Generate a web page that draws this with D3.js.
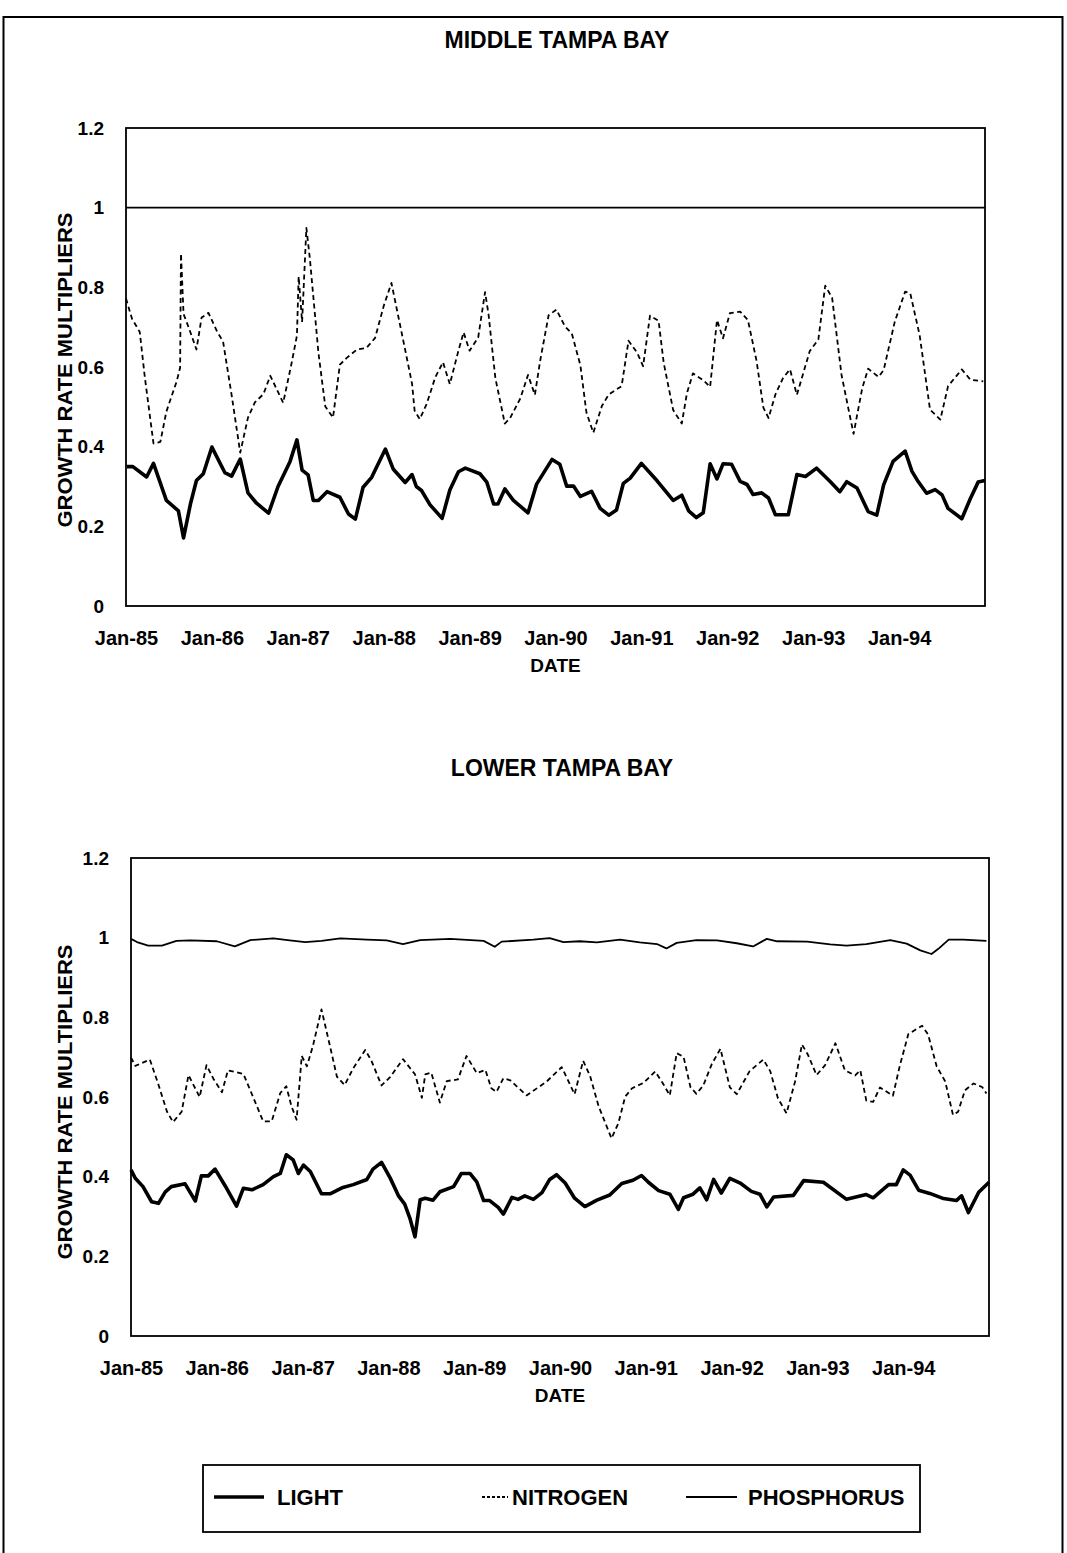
<!DOCTYPE html>
<html>
<head>
<meta charset="utf-8">
<script src="https://cdn.jsdelivr.net/npm/d3@7"></script>
<style>
  html, body { margin: 0; padding: 0; background: #fff; }
  svg { display: block; }
  text { font-family: "Liberation Sans", Arial, sans-serif; fill: #000; }
</style>
</head>
<body>
<svg id="chart" width="1067" height="1553"></svg>
<script>
// ---------------- DATA ----------------
const yearTicks = [1985, 1986, 1987, 1988, 1989, 1990, 1991, 1992, 1993, 1994];
const yearLabels = ["Jan-85", "Jan-86", "Jan-87", "Jan-88", "Jan-89", "Jan-90", "Jan-91", "Jan-92", "Jan-93", "Jan-94"];
const yTicks = [0, 0.2, 0.4, 0.6, 0.8, 1, 1.2];
const yTickLabels = ["0", "0.2", "0.4", "0.6", "0.8", "1", "1.2"];
const seriesNames = ["LIGHT", "NITROGEN", "PHOSPHORUS"];
const chartTitles = ["MIDDLE TAMPA BAY", "LOWER TAMPA BAY"];

// [decimal year, multiplier]
const middleLight = [[1985.01,0.35],[1985.08,0.35],[1985.24,0.324],[1985.32,0.358],[1985.47,0.265],[1985.61,0.239],[1985.67,0.171],[1985.75,0.256],[1985.82,0.315],[1985.90,0.332],[1986.00,0.399],[1986.15,0.335],[1986.23,0.326],[1986.33,0.369],[1986.42,0.284],[1986.52,0.258],[1986.66,0.233],[1986.77,0.30],[1986.91,0.363],[1986.99,0.417],[1987.05,0.341],[1987.12,0.329],[1987.18,0.265],[1987.24,0.265],[1987.34,0.287],[1987.49,0.273],[1987.59,0.231],[1987.67,0.218],[1987.76,0.298],[1987.86,0.323],[1988.02,0.394],[1988.11,0.344],[1988.25,0.31],[1988.33,0.33],[1988.38,0.30],[1988.44,0.29],[1988.54,0.254],[1988.68,0.22],[1988.77,0.291],[1988.87,0.337],[1988.95,0.346],[1989.12,0.332],[1989.20,0.311],[1989.28,0.256],[1989.33,0.256],[1989.41,0.294],[1989.51,0.265],[1989.68,0.234],[1989.78,0.306],[1989.96,0.368],[1990.05,0.356],[1990.13,0.301],[1990.21,0.301],[1990.29,0.275],[1990.42,0.288],[1990.52,0.245],[1990.62,0.228],[1990.71,0.241],[1990.79,0.308],[1990.87,0.321],[1991.00,0.358],[1991.18,0.315],[1991.37,0.265],[1991.47,0.278],[1991.55,0.239],[1991.64,0.222],[1991.72,0.234],[1991.80,0.357],[1991.88,0.319],[1991.95,0.357],[1992.05,0.356],[1992.15,0.313],[1992.23,0.305],[1992.30,0.28],[1992.40,0.284],[1992.48,0.271],[1992.56,0.229],[1992.71,0.229],[1992.81,0.33],[1992.91,0.325],[1993.04,0.346],[1993.20,0.312],[1993.31,0.287],[1993.39,0.312],[1993.51,0.296],[1993.64,0.237],[1993.74,0.228],[1993.82,0.304],[1993.93,0.363],[1994.07,0.389],[1994.15,0.338],[1994.22,0.313],[1994.32,0.283],[1994.42,0.292],[1994.50,0.279],[1994.57,0.245],[1994.73,0.219],[1994.83,0.27],[1994.92,0.311],[1995.00,0.315]];

const middleNitrogen = [[1985.00,0.772],[1985.07,0.721],[1985.16,0.688],[1985.22,0.573],[1985.32,0.408],[1985.40,0.412],[1985.47,0.488],[1985.59,0.564],[1985.63,0.598],[1985.64,0.885],[1985.67,0.733],[1985.73,0.699],[1985.82,0.644],[1985.88,0.724],[1985.96,0.736],[1986.06,0.689],[1986.13,0.664],[1986.23,0.529],[1986.33,0.385],[1986.42,0.473],[1986.50,0.511],[1986.60,0.532],[1986.68,0.578],[1986.83,0.51],[1986.93,0.612],[1986.99,0.679],[1987.01,0.827],[1987.05,0.713],[1987.10,0.949],[1987.14,0.873],[1987.24,0.636],[1987.32,0.501],[1987.41,0.473],[1987.49,0.606],[1987.57,0.623],[1987.69,0.644],[1987.80,0.648],[1987.90,0.673],[1988.00,0.753],[1988.09,0.811],[1988.25,0.643],[1988.33,0.558],[1988.36,0.49],[1988.42,0.469],[1988.50,0.507],[1988.60,0.574],[1988.69,0.612],[1988.77,0.557],[1988.87,0.641],[1988.93,0.687],[1989.00,0.641],[1989.10,0.674],[1989.18,0.788],[1989.22,0.733],[1989.30,0.572],[1989.41,0.458],[1989.47,0.471],[1989.59,0.521],[1989.68,0.58],[1989.76,0.53],[1989.82,0.614],[1989.92,0.73],[1990.01,0.744],[1990.11,0.702],[1990.19,0.684],[1990.29,0.604],[1990.36,0.486],[1990.44,0.435],[1990.54,0.502],[1990.62,0.531],[1990.77,0.552],[1990.85,0.666],[1990.95,0.636],[1991.02,0.602],[1991.10,0.729],[1991.20,0.716],[1991.26,0.61],[1991.37,0.492],[1991.47,0.458],[1991.53,0.534],[1991.60,0.584],[1991.72,0.567],[1991.80,0.55],[1991.88,0.718],[1991.95,0.672],[1992.03,0.735],[1992.15,0.739],[1992.24,0.718],[1992.34,0.616],[1992.42,0.498],[1992.48,0.472],[1992.56,0.531],[1992.65,0.573],[1992.73,0.594],[1992.81,0.53],[1992.96,0.64],[1993.06,0.669],[1993.14,0.804],[1993.22,0.774],[1993.33,0.58],[1993.41,0.495],[1993.47,0.432],[1993.57,0.546],[1993.64,0.596],[1993.76,0.575],[1993.82,0.592],[1993.95,0.714],[1994.07,0.789],[1994.13,0.785],[1994.24,0.679],[1994.36,0.493],[1994.48,0.468],[1994.57,0.552],[1994.73,0.594],[1994.83,0.568],[1994.98,0.564]];

const middlePhosphorus = [[1985,1],[1986,1],[1987,1],[1988,1],[1989,1],[1990,1],[1991,1],[1992,1],[1993,1],[1994,1],[1995,1]];

const lowerLight = [[1985.00,0.417],[1985.05,0.396],[1985.14,0.375],[1985.24,0.337],[1985.32,0.333],[1985.40,0.362],[1985.47,0.375],[1985.63,0.382],[1985.75,0.339],[1985.82,0.402],[1985.90,0.402],[1985.98,0.419],[1986.10,0.376],[1986.23,0.326],[1986.31,0.371],[1986.41,0.367],[1986.54,0.38],[1986.66,0.40],[1986.74,0.408],[1986.81,0.455],[1986.89,0.442],[1986.95,0.408],[1987.01,0.429],[1987.09,0.413],[1987.22,0.357],[1987.32,0.357],[1987.47,0.373],[1987.59,0.38],[1987.75,0.393],[1987.82,0.419],[1987.92,0.436],[1988.02,0.397],[1988.12,0.351],[1988.19,0.331],[1988.25,0.296],[1988.31,0.249],[1988.37,0.342],[1988.43,0.346],[1988.52,0.341],[1988.60,0.362],[1988.76,0.375],[1988.85,0.408],[1988.95,0.408],[1989.03,0.387],[1989.11,0.34],[1989.18,0.34],[1989.28,0.323],[1989.34,0.306],[1989.44,0.348],[1989.51,0.343],[1989.59,0.352],[1989.69,0.343],[1989.79,0.36],[1989.88,0.393],[1989.96,0.405],[1990.06,0.384],[1990.17,0.346],[1990.29,0.325],[1990.43,0.341],[1990.58,0.354],[1990.72,0.383],[1990.85,0.391],[1990.95,0.403],[1991.03,0.386],[1991.15,0.365],[1991.28,0.356],[1991.38,0.318],[1991.44,0.347],[1991.55,0.356],[1991.63,0.372],[1991.71,0.342],[1991.79,0.393],[1991.88,0.359],[1991.98,0.396],[1992.10,0.384],[1992.23,0.363],[1992.33,0.356],[1992.41,0.324],[1992.49,0.349],[1992.72,0.353],[1992.84,0.39],[1993.07,0.386],[1993.34,0.343],[1993.57,0.355],[1993.65,0.347],[1993.83,0.38],[1993.92,0.38],[1994.00,0.417],[1994.08,0.404],[1994.18,0.366],[1994.31,0.358],[1994.47,0.345],[1994.62,0.34],[1994.68,0.352],[1994.76,0.31],[1994.88,0.361],[1995.00,0.386]];

const lowerNitrogen = [[1985.00,0.699],[1985.05,0.678],[1985.22,0.694],[1985.32,0.631],[1985.42,0.563],[1985.49,0.537],[1985.59,0.563],[1985.67,0.655],[1985.75,0.621],[1985.80,0.60],[1985.88,0.68],[1985.96,0.646],[1986.06,0.612],[1986.13,0.667],[1986.31,0.658],[1986.45,0.586],[1986.54,0.539],[1986.64,0.539],[1986.74,0.61],[1986.81,0.627],[1986.87,0.577],[1986.93,0.543],[1986.99,0.703],[1987.05,0.677],[1987.12,0.728],[1987.22,0.82],[1987.32,0.727],[1987.40,0.651],[1987.49,0.63],[1987.59,0.672],[1987.73,0.718],[1987.80,0.692],[1987.92,0.629],[1988.02,0.65],[1988.17,0.695],[1988.31,0.657],[1988.39,0.598],[1988.43,0.657],[1988.50,0.661],[1988.60,0.586],[1988.68,0.64],[1988.81,0.644],[1988.91,0.703],[1989.03,0.66],[1989.13,0.668],[1989.20,0.622],[1989.26,0.613],[1989.34,0.647],[1989.42,0.642],[1989.61,0.604],[1989.84,0.638],[1990.02,0.675],[1990.17,0.607],[1990.27,0.691],[1990.35,0.653],[1990.45,0.577],[1990.60,0.496],[1990.68,0.534],[1990.76,0.601],[1990.84,0.622],[1990.97,0.635],[1991.11,0.664],[1991.20,0.634],[1991.28,0.604],[1991.36,0.71],[1991.44,0.701],[1991.52,0.625],[1991.59,0.608],[1991.67,0.629],[1991.77,0.683],[1991.87,0.721],[1991.98,0.624],[1992.06,0.607],[1992.21,0.665],[1992.37,0.694],[1992.45,0.665],[1992.54,0.597],[1992.64,0.559],[1992.74,0.639],[1992.82,0.732],[1992.89,0.706],[1992.99,0.655],[1993.09,0.68],[1993.21,0.735],[1993.32,0.667],[1993.44,0.654],[1993.50,0.667],[1993.57,0.591],[1993.65,0.588],[1993.73,0.624],[1993.88,0.603],[1993.96,0.678],[1994.06,0.758],[1994.22,0.779],[1994.29,0.757],[1994.39,0.677],[1994.49,0.639],[1994.58,0.555],[1994.64,0.563],[1994.72,0.617],[1994.82,0.634],[1994.92,0.625],[1994.97,0.609]];

const lowerPhosphorus = [[1985.00,0.997],[1985.07,0.989],[1985.20,0.98],[1985.36,0.98],[1985.53,0.992],[1985.69,0.993],[1986.00,0.991],[1986.21,0.978],[1986.39,0.994],[1986.66,0.998],[1986.85,0.993],[1987.03,0.989],[1987.22,0.992],[1987.44,0.998],[1987.75,0.995],[1987.98,0.993],[1988.17,0.984],[1988.37,0.994],[1988.72,0.997],[1989.11,0.992],[1989.24,0.977],[1989.32,0.99],[1989.69,0.995],[1989.88,0.999],[1990.04,0.989],[1990.23,0.991],[1990.43,0.988],[1990.70,0.995],[1990.93,0.988],[1991.13,0.984],[1991.24,0.973],[1991.36,0.987],[1991.59,0.994],[1991.83,0.993],[1992.06,0.986],[1992.25,0.978],[1992.41,0.997],[1992.53,0.991],[1992.88,0.99],[1993.15,0.983],[1993.34,0.98],[1993.57,0.984],[1993.85,0.994],[1994.04,0.985],[1994.20,0.968],[1994.33,0.959],[1994.41,0.972],[1994.53,0.995],[1994.70,0.995],[1994.97,0.992]];

// ---------------- DRAWING ----------------
const svg = d3.select("#chart");
const FONT = '"Liberation Sans", Arial, sans-serif';

// page border
svg.append("rect").attr("x", 3.5).attr("y", 17).attr("width", 1059).attr("height", 1600)
  .attr("fill", "none").attr("stroke", "#000").attr("stroke-width", 2);

const styles = {
  LIGHT: { w: 3.6, dash: null },
  NITROGEN: { w: 1.8, dash: "5,3.5" },
  PHOSPHORUS: { w: 1.8, dash: null }
};

const panels = [
  { title: chartTitles[0], titleX: 557, titleY: 48, x0: 126, x1: 985, y0: 606, y1: 128,
    series: [middleLight, middleNitrogen, middlePhosphorus], yTitleX: 72, yTitleY: 370 },
  { title: chartTitles[1], titleX: 562, titleY: 776, x0: 131, x1: 989, y0: 1336, y1: 858,
    series: [lowerLight, lowerNitrogen, lowerPhosphorus], yTitleX: 72, yTitleY: 1102 }
];

panels.forEach(p => {
  const x = d3.scaleLinear().domain([1985, 1995]).range([p.x0, p.x1]);
  const y = d3.scaleLinear().domain([0, 1.2]).range([p.y0, p.y1]);
  const g = svg.append("g");

  g.append("text").attr("x", p.titleX).attr("y", p.titleY).attr("text-anchor", "middle")
    .style("font-size", "23px").style("font-weight", "bold").text(p.title);

  // plot frame
  g.append("rect").attr("x", p.x0).attr("y", p.y1).attr("width", p.x1 - p.x0).attr("height", p.y0 - p.y1)
    .attr("fill", "none").attr("stroke", "#000").attr("stroke-width", 1.8);

  // lines
  const line = d3.line().x(d => x(d[0])).y(d => y(d[1]));
  p.series.forEach((s, i) => {
    const st = styles[seriesNames[i]];
    g.append("path").datum(s).attr("d", line).attr("fill", "none").attr("stroke", "#000")
      .attr("stroke-width", st.w).attr("stroke-linejoin", "round")
      .attr("stroke-dasharray", st.dash);
  });

  // axes
  const xAxis = d3.axisBottom(x).tickValues(yearTicks).tickSize(0).tickPadding(25)
    .tickFormat((d, i) => yearLabels[i]);
  const xg = g.append("g").attr("transform", `translate(0,${p.y0})`).call(xAxis);
  xg.select(".domain").remove();
  xg.selectAll("text").style("font-family", FONT).style("font-size", "20px").style("font-weight", "bold").attr("fill", "#000");

  const yAxis = d3.axisLeft(y).tickValues(yTicks).tickSize(0).tickPadding(22)
    .tickFormat((d, i) => yTickLabels[i]);
  const yg = g.append("g").attr("transform", `translate(${p.x0},0)`).call(yAxis);
  yg.select(".domain").remove();
  yg.selectAll("text").style("font-family", FONT).style("font-size", "19px").style("font-weight", "bold").attr("fill", "#000");

  // axis titles
  g.append("text").attr("x", x(1990)).attr("y", p.y0 + 66).attr("text-anchor", "middle")
    .style("font-size", "19px").style("font-weight", "bold").text("DATE");

  g.append("text").attr("transform", `translate(${p.yTitleX},${p.yTitleY}) rotate(-90)`)
    .attr("text-anchor", "middle").attr("textLength", 315).attr("lengthAdjust", "spacingAndGlyphs")
    .style("font-size", "20px").style("font-weight", "bold").text("GROWTH RATE MULTIPLIERS");
});

// legend
const lg = svg.append("g");
lg.append("rect").attr("x", 203).attr("y", 1465).attr("width", 717).attr("height", 67)
  .attr("fill", "none").attr("stroke", "#000").attr("stroke-width", 1.8);
const legendItems = [
  { name: seriesNames[0], lx0: 214, lx1: 264, tx: 277 },
  { name: seriesNames[1], lx0: 482, lx1: 508, tx: 512 },
  { name: seriesNames[2], lx0: 686, lx1: 737, tx: 748 }
];
legendItems.forEach(it => {
  const st = styles[it.name];
  lg.append("line").attr("x1", it.lx0).attr("x2", it.lx1).attr("y1", 1497).attr("y2", 1497)
    .attr("stroke", "#000").attr("stroke-width", st.w)
    .attr("stroke-dasharray", it.name === "NITROGEN" ? "3,2" : null);
  lg.append("text").attr("x", it.tx).attr("y", 1505)
    .style("font-size", "22px").style("font-weight", "bold").text(it.name);
});
</script>
</body>
</html>
